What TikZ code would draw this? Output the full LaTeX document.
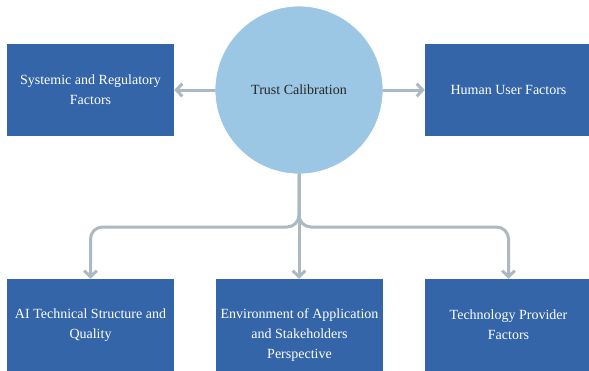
\documentclass[tikz,border=0pt]{standalone}
\usepackage{fontspec}
\setmainfont{Liberation Serif}
\usetikzlibrary{arrows.meta}
\definecolor{boxblue}{RGB}{52,101,168}
\definecolor{circblue}{RGB}{155,199,228}
\definecolor{connGray}{RGB}{172,184,194}
\begin{document}
\begin{tikzpicture}[x=0.75pt,y=0.75pt,yscale=-1,xscale=1,
    factor/.style={fill=boxblue,draw=none,minimum width=125.25pt,minimum height=69pt,inner sep=0pt,
        text=white,align=center,font=\fontsize{10.5}{15}\selectfont},
    hub/.style={circle,fill=circblue,draw=white,line width=0.6pt,minimum size=126pt,inner sep=0pt,
        text=black!85,font=\fontsize{10.5}{15}\selectfont},
    conn/.style={draw=connGray,line width=2.25pt,line cap=round,
        -{Straight Barb[length=4.5pt,width=9.5pt,line width=2.25pt]}}]
    \useasboundingbox (0,0) rectangle (589,371);
    % centre
    \node [hub] (trust) at (299,90) {Trust Calibration};
    % upper row
    \node [factor] (sysreg) at (90.5,90) {Systemic and Regulatory\\Factors};
    \node [factor] (human) at (508.5,90) {Human User Factors};
    % lower row
    \node [factor] (aitech) at (90.5,325) {AI Technical Structure and\\Quality};
    \node [factor,label={[text=white,align=center,font=\fontsize{10.5}{15}\selectfont,yshift=-7.5pt]center:Environment of Application\\and Stakeholders\\Perspective}] (envapp) at (299.5,325) {};
    \node [factor] (techprov) at (508.5,325) {Technology Provider\\Factors};
    \coordinate (fork) at (299,227);
    \draw [conn] (trust) -- (sysreg);
    \draw [conn] (trust) -- (human);
    \draw [conn] (trust.south) -- (trust.south |- envapp.north);
    \draw [conn,rounded corners=9pt] (trust.south) -- (fork) -| (aitech.north);
    \draw [conn,rounded corners=9pt] (trust.south) -- (fork) -| (techprov.north);
\end{tikzpicture}
\end{document}
